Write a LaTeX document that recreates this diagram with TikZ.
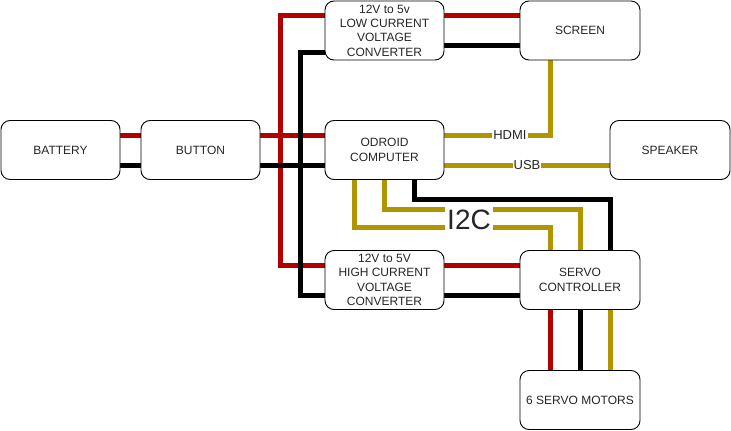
\documentclass[tikz,border=0pt]{standalone}
\usepackage{fontspec}
\setmainfont{Liberation Sans}
\definecolor{wred}{HTML}{B20000}
\definecolor{wgold}{HTML}{B09500}
\pgfdeclarelayer{background}
\pgfsetlayers{background,main}
\begin{document}
\begin{tikzpicture}[x=1pt,y=-1pt,
  box/.style={draw, line width=0.9pt, rounded corners=9pt, fill=white,
    minimum width=119pt, minimum height=59pt, align=center, inner sep=0pt,
    font=\fontsize{12}{14.4}\selectfont, text=black!85},
  rw/.style={line width=5pt, draw=wred},
  bw/.style={line width=5pt, draw=black},
  gw/.style={line width=5pt, draw=wgold},
  wlabel/.style={fill=white, inner sep=1pt, font=\fontsize{13}{15}\selectfont, text=black!85}]
\useasboundingbox (0,0) rectangle (731,431);

\node[box] (battery) at (60.5,150) {BATTERY};
\node[box] (button)  at (200.5,150) {BUTTON};
\node[box] (low)     at (384.5,30.5) {12V to 5v\\LOW CURRENT\\VOLTAGE\\CONVERTER};
\node[box, minimum width=120pt] (screen)  at (580,30.5) {SCREEN};
\node[box] (odroid)  at (384.5,150) {ODROID\\COMPUTER};
\node[box, minimum width=120pt] (speaker) at (670,150) {SPEAKER};
\node[box] (high)    at (384.5,280) {12V to 5V\\HIGH CURRENT\\VOLTAGE\\CONVERTER};
\node[box, minimum width=120pt] (servo)   at (580,280) {SERVO\\CONTROLLER};
\node[box, minimum width=120pt] (motors)  at (580,400) {6 SERVO MOTORS};

\begin{pgfonlayer}{background}
\draw[rw] ([yshift=15pt]battery.east) -- ([yshift=15pt]button.west);
\draw[bw] ([yshift=-15pt]battery.east) -- ([yshift=-15pt]button.west);
\draw[rw] ([yshift=15pt]button.east) -- ([yshift=15pt]odroid.west);
\draw[bw] ([yshift=-15pt]button.east) -- ([yshift=-15pt]odroid.west);
\draw[rw] ([yshift=15pt]button.east) -- ++(20,0) |- ([yshift=15pt]low.west);
\draw[rw] ([yshift=15pt]button.east) -- ++(20,0) |- ([yshift=15pt]high.west);
\draw[bw] ([yshift=-15pt]button.east) -- ++(40,0) |- ([yshift=-22pt]low.west);
\draw[bw] ([yshift=-15pt]button.east) -- ++(40,0) |- ([yshift=-15pt]high.west);

\draw[rw] ([yshift=15pt]low.east) -- ([yshift=15pt]low.east -| screen.west);
\draw[bw] ([yshift=-15pt]low.east) -- ([yshift=-15pt]low.east -| screen.west);
\draw[rw] ([yshift=15pt]high.east) -- ([yshift=15pt]high.east -| servo.west);
\draw[bw] ([yshift=-15pt]high.east) -- ([yshift=-15pt]high.east -| servo.west);

\draw[gw] ([yshift=15pt]odroid.east) -| ([xshift=-30pt]screen.south)
  node[wlabel, pos=0.31] (hdmi) {HDMI};
\draw[gw] ([yshift=-15pt]odroid.east) -- ([yshift=-15pt]odroid.east -| speaker.west)
  node[wlabel, midway] (usb) {USB};

\draw[gw] ([xshift=-30pt]odroid.south) -- ++(0,48) -| ([xshift=-30pt]servo.north);
\draw[gw] (odroid.south) -- ++(0,30) -| (servo.north);
\draw[bw] ([xshift=30pt]odroid.south) -- ++(0,20) -| ([xshift=30pt]servo.north);
\node[fill=white, inner xsep=2pt, inner ysep=0pt, minimum height=31pt,
  font=\fontsize{28}{30}\selectfont, text=black!85] (i2c) at (469,219.5) {I2C};

\draw[rw] ([xshift=-30pt]servo.south) -- ([xshift=-30pt]motors.north);
\draw[bw] (servo.south) -- (motors.north);
\draw[gw] ([xshift=30pt]servo.south) -- ([xshift=30pt]motors.north);
\end{pgfonlayer}
\end{tikzpicture}
\end{document}
